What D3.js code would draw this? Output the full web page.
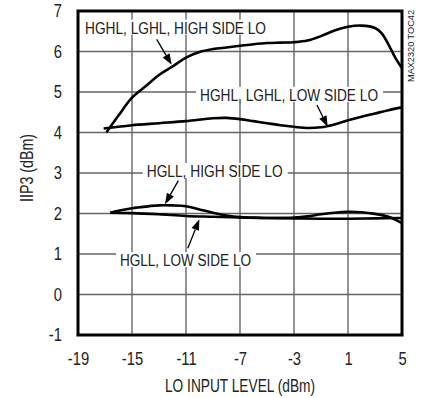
<!DOCTYPE html>
<html>
<head>
<meta charset="utf-8">
<script src="https://cdn.jsdelivr.net/npm/d3@7"></script>
<style>
	body { margin: 0; background: #fff; }
	text { font-family: "Liberation Sans Narrow", "Arial Narrow", "Liberation Sans", sans-serif; fill: #222; }
</style>
</head>
<body>
<svg id="chart"></svg>
<script>
// x: LO input level (dBm), y: IIP3 (dBm)
const xTicks = [-19, -15, -11, -7, -3, 1, 5];
const yTicks = [-1, 0, 1, 2, 3, 4, 5, 6, 7];

const hghlHigh = [[-16.9, 4.0], [-16, 4.42], [-15, 4.86], [-14, 5.14], [-13, 5.42], [-12, 5.63], [-11, 5.85],
	[-10, 5.99], [-9, 6.06], [-8, 6.1], [-7, 6.14], [-6, 6.18], [-5, 6.21], [-4, 6.22], [-3, 6.23], [-2, 6.27],
	[-1, 6.38], [0, 6.52], [1, 6.61], [2, 6.64], [3, 6.58], [3.5, 6.45], [4, 6.17], [4.5, 5.85], [5, 5.59]];
const hghlLow = [[-17.1, 4.1], [-16, 4.14], [-15, 4.18], [-13, 4.23], [-11, 4.28], [-9, 4.35], [-8, 4.36],
	[-7, 4.33], [-6, 4.28], [-5, 4.23], [-4, 4.18], [-3, 4.14], [-2, 4.11], [-1, 4.13], [0, 4.2], [1, 4.3],
	[2, 4.39], [3, 4.47], [4, 4.55], [5, 4.62]];
const hgllHigh = [[-16.6, 2.02], [-16, 2.07], [-15, 2.13], [-14, 2.17], [-13, 2.2], [-12, 2.2], [-11, 2.18],
	[-10, 2.1], [-9, 2.02], [-8, 1.95], [-7, 1.91], [-6, 1.9], [-5, 1.89], [-4, 1.89], [-3, 1.9], [-2, 1.93],
	[-1, 1.98], [0, 2.02], [1, 2.04], [2, 2.03], [3, 1.99], [4, 1.92], [4.5, 1.85], [5, 1.76]];
const hgllLow = [[-16.6, 2.02], [-15, 2.01], [-13, 1.98], [-11, 1.94], [-9, 1.92], [-7, 1.9], [-5, 1.89],
	[-3, 1.88], [-1, 1.87], [1, 1.87], [3, 1.88], [5, 1.89]];

// labels: text, left x, centre y, width in px
const labelText = ["HGHL, LGHL, HIGH SIDE LO", "HGHL, LGHL, LOW SIDE LO", "HGLL, HIGH SIDE LO", "HGLL, LOW SIDE LO"];
const labelPos = [[-18.48, 6.59, 181], [-9.96, 4.93, 178], [-13.91, 3.05, 136], [-15.89, 0.85, 131]];
// arrows: from label to curve
const arrows = [[[-13.17, 6.30], [-12.06, 5.67]], [[-1.30, 4.68], [-0.50, 4.14]],
	[[-11.57, 2.81], [-12.56, 2.23]], [[-10.87, 1.14], [-10.01, 1.86]]];

const w = 422, h = 398;
const margin = { top: 11, right: 20, bottom: 63, left: 78 };

const svg = d3.select("#chart").attr("width", w).attr("height", h);

const x = d3.scaleLinear().domain([-19, 5]).range([margin.left, w - margin.right]);
const y = d3.scaleLinear().domain([-1, 7]).range([h - margin.bottom, margin.top]);

// grid
svg.append("g")
	.selectAll("line.v")
	.data(xTicks.slice(1, -1))
	.enter()
	.append("line")
	.attr("x1", (d) => x(d)).attr("x2", (d) => x(d))
	.attr("y1", y(7)).attr("y2", y(-1))
	.attr("stroke", "#666").attr("stroke-width", 1.4);
svg.append("g")
	.selectAll("line.h")
	.data(yTicks.slice(1, -1))
	.enter()
	.append("line")
	.attr("x1", x(-19)).attr("x2", x(5))
	.attr("y1", (d) => y(d)).attr("y2", (d) => y(d))
	.attr("stroke", "#666").attr("stroke-width", 1.4);

// axes
const xAxis = svg.append("g")
	.attr("transform", "translate(0," + y(-1) + ")")
	.call(d3.axisBottom(x).tickValues(xTicks).tickSize(0).tickPadding(17).tickFormat(d3.format("d")));
const yAxis = svg.append("g")
	.attr("transform", "translate(" + x(-19) + ",0)")
	.call(d3.axisLeft(y).tickValues(yTicks).tickSize(0).tickPadding(16).tickFormat(d3.format("d")));
[xAxis, yAxis].forEach((a) => {
	a.select(".domain").remove();
	a.attr("font-family", null);
	a.selectAll("text")
		.attr("font-size", 18).attr("fill", "#222")
		.text((d) => (d < 0 ? "-" + Math.abs(d) : d))
		.each(function () {
			// squeeze to a narrow face
			const len = this.getComputedTextLength();
			d3.select(this).attr("textLength", len * 0.82).attr("lengthAdjust", "spacingAndGlyphs");
		});
});

// labels with white background
labelText.forEach((t, i) => {
	const p = labelPos[i];
	svg.append("rect")
		.attr("x", x(p[0]) - 4).attr("y", y(p[1]) - 8)
		.attr("width", p[2] + 9).attr("height", 15)
		.attr("fill", "#fff");
	svg.append("text")
		.attr("x", x(p[0])).attr("y", y(p[1]) + 6)
		.attr("font-size", 16)
		.attr("textLength", p[2]).attr("lengthAdjust", "spacingAndGlyphs")
		.text(t);
});

// curves
const line = d3.line()
	.x((d) => x(d[0]))
	.y((d) => y(d[1]))
	.curve(d3.curveCatmullRom.alpha(0.5));
[hghlHigh, hghlLow, hgllHigh, hgllLow].forEach((s) => {
	svg.append("path")
		.attr("d", line(s))
		.attr("fill", "none")
		.attr("stroke", "#000")
		.attr("stroke-width", 2.6)
		.attr("stroke-linejoin", "round");
});

// arrows
arrows.forEach((a) => {
	const x1 = x(a[0][0]), y1 = y(a[0][1]), x2 = x(a[1][0]), y2 = y(a[1][1]);
	const len = Math.hypot(x2 - x1, y2 - y1);
	const ux = (x2 - x1) / len, uy = (y2 - y1) / len;
	const hl = 11, hw = 4;
	const bx = x2 - ux * hl, by = y2 - uy * hl;
	svg.append("line")
		.attr("x1", x1).attr("y1", y1).attr("x2", bx).attr("y2", by)
		.attr("stroke", "#000").attr("stroke-width", 1.3);
	svg.append("path")
		.attr("d", "M" + x2 + "," + y2 + "L" + (bx - uy * hw) + "," + (by + ux * hw) +
			"L" + (bx + uy * hw) + "," + (by - ux * hw) + "Z")
		.attr("fill", "#000");
});

// frame
svg.append("rect")
	.attr("x", x(-19)).attr("y", y(7))
	.attr("width", x(5) - x(-19)).attr("height", y(-1) - y(7))
	.attr("fill", "none").attr("stroke", "#000").attr("stroke-width", 3);

// axis titles
svg.append("text")
	.attr("x", 240).attr("y", 392)
	.attr("text-anchor", "middle")
	.attr("font-size", 18)
	.attr("textLength", 150).attr("lengthAdjust", "spacingAndGlyphs")
	.text("LO INPUT LEVEL (dBm)");
svg.append("text")
	.attr("transform", "translate(33,168) rotate(-90)")
	.attr("text-anchor", "middle")
	.attr("font-size", 18)
	.attr("textLength", 68).attr("lengthAdjust", "spacingAndGlyphs")
	.text("IIP3 (dBm)");
svg.append("text")
	.attr("transform", "translate(414,46) rotate(-90)")
	.attr("text-anchor", "middle")
	.attr("font-size", 9)
	.attr("textLength", 72).attr("lengthAdjust", "spacingAndGlyphs")
	.text("MAX2320 TOC42");
</script>
</body>
</html>
